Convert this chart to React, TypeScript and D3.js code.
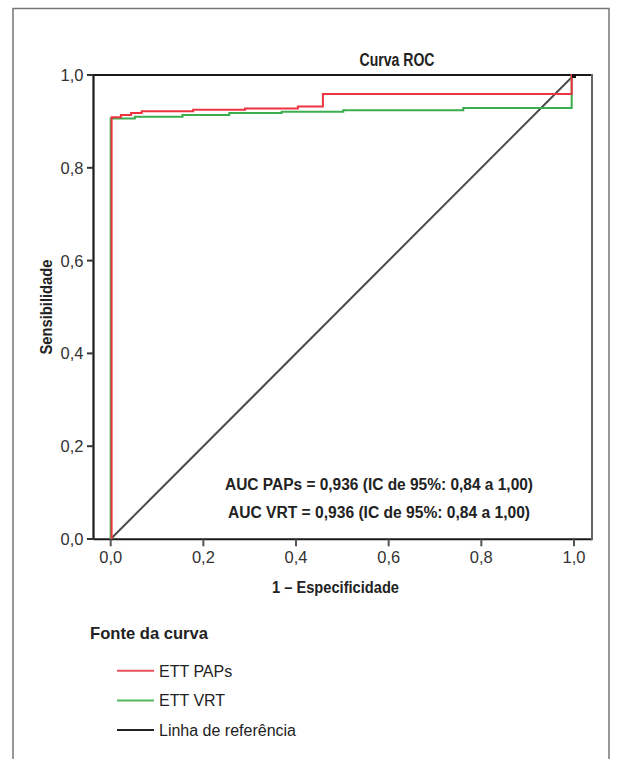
import React from "react";
import * as d3 from "d3";

const xTicks = [0, 0.2, 0.4, 0.6, 0.8, 1.0];
const yTicks = [0, 0.2, 0.4, 0.6, 0.8, 1.0];

const papsX = [0.002, 0.002, 0.022, 0.022, 0.044, 0.044, 0.067, 0.067, 0.178, 0.178, 0.29, 0.29, 0.404, 0.404, 0.458, 0.458, 0.995, 0.995, 1];
const papsY = [0, 0.909, 0.909, 0.914, 0.914, 0.918, 0.918, 0.922, 0.922, 0.925, 0.925, 0.928, 0.928, 0.932, 0.932, 0.959, 0.959, 1, 1];

const vrtX = [0, 0, 0.052, 0.052, 0.155, 0.155, 0.256, 0.256, 0.369, 0.369, 0.502, 0.502, 0.761, 0.761, 0.995, 0.995, 1];
const vrtY = [0, 0.906, 0.906, 0.91, 0.91, 0.914, 0.914, 0.918, 0.918, 0.921, 0.921, 0.924, 0.924, 0.929, 0.929, 1, 1];

const refX = [0, 1];
const refY = [0, 1];

const legendLabels = ["ETT PAPs", "ETT VRT", "Linha de referência"];
const legendColors = ["#e8505b", "#55b85a", "#222222"];
const aucLines = [
  "AUC PAPs = 0,936 (IC de 95%: 0,84 a 1,00)",
  "AUC VRT = 0,936 (IC de 95%: 0,84 a 1,00)",
];

const fmt = (v: number) => v.toFixed(1).replace(".", ",");
const boldFont = "'Liberation Sans Narrow', 'Liberation Sans', Arial, sans-serif";
const normFont = "'Liberation Sans', Arial, sans-serif";

export default function App() {
  const x = d3.scaleLinear().domain([0, 1]).range([110.7, 574]);
  const y = d3.scaleLinear().domain([0, 1]).range([539, 75]);
  const line = d3
    .line<[number, number]>()
    .x((d) => x(d[0]))
    .y((d) => y(d[1]));
  const zip = (a: number[], b: number[]) => a.map((v, i) => [v, b[i]] as [number, number]);

  const frameL = 93.5, frameR = 592, frameT = 75, frameB = 539.3;

  return (
    <svg
      width={622}
      height={759}
      style={{ position: "absolute", left: 0, top: 0, background: "#fff" }}
    >
      {/* outer border */}
      <path d="M13,759 L13,8.5 L609,8.5 L609,759" fill="none" stroke="#777" strokeWidth={1.5} />

      {/* title */}
      <text x={397} y={66} textAnchor="middle" fontFamily={boldFont} fontWeight="bold" fontSize={18} fill="#222" textLength={75} lengthAdjust="spacingAndGlyphs">
        Curva ROC
      </text>

      {/* plot frame */}
      <line x1={frameL} y1={frameT} x2={frameR} y2={frameT} stroke="#1a1a1a" strokeWidth={2} />
      <line x1={frameL} y1={frameT - 1} x2={frameL} y2={frameB} stroke="#1a1a1a" strokeWidth={2.2} />
      <line x1={frameL} y1={frameB} x2={frameR} y2={frameB} stroke="#1a1a1a" strokeWidth={2} />
      <line x1={frameR} y1={frameT - 1} x2={frameR} y2={frameB + 1} stroke="#666" strokeWidth={2} />

      {/* y ticks */}
      {yTicks.map((t) => (
        <g key={"y" + t}>
          <line x1={87} x2={frameL} y1={y(t)} y2={y(t)} stroke="#333" strokeWidth={2} />
          <text x={83.5} y={y(t) + 6} textAnchor="end" fontFamily={normFont} fontSize={16.5} fill="#333">
            {fmt(t)}
          </text>
        </g>
      ))}
      {/* x ticks */}
      {xTicks.map((t) => (
        <g key={"x" + t}>
          <line x1={x(t)} x2={x(t)} y1={frameB} y2={frameB + 7} stroke="#555" strokeWidth={2} />
          <text x={x(t)} y={563} textAnchor="middle" fontFamily={normFont} fontSize={16.5} fill="#333">
            {fmt(t)}
          </text>
        </g>
      ))}

      {/* axis labels */}
      <text x={335.5} y={593} textAnchor="middle" fontFamily={boldFont} fontWeight="bold" fontSize={16.5} fill="#222" textLength={127} lengthAdjust="spacingAndGlyphs">
        1 – Especificidade
      </text>
      <text
        transform="translate(52,307) rotate(-90)"
        textAnchor="middle"
        fontFamily={boldFont}
        fontWeight="bold"
        fontSize={16.5}
        fill="#222"
        textLength={95}
        lengthAdjust="spacingAndGlyphs"
      >
        Sensibilidade
      </text>

      {/* reference line */}
      <path d={line(zip(refX, refY)) || ""} fill="none" stroke="#4a4a4a" strokeWidth={2} />
      {/* curves */}
      <path d={line(zip(vrtX, vrtY)) || ""} fill="none" stroke="#3aad4f" strokeWidth={2} />
      <path d={line(zip(papsX, papsY)) || ""} fill="none" stroke="#ee3440" strokeWidth={2} />
      <rect x={x(1) - 2} y={y(1) - 1} width={4} height={4} fill="#111" />

      {/* AUC annotations */}
      {aucLines.map((s, i) => (
        <text key={s} x={379} y={489.5 + i * 28.5} textAnchor="middle" fontFamily={boldFont} fontWeight="bold" fontSize={16} fill="#222" textLength={i === 0 ? 308 : 302} lengthAdjust="spacingAndGlyphs">
          {s}
        </text>
      ))}

      {/* legend */}
      <text x={90} y={639} fontFamily={boldFont} fontWeight="bold" fontSize={16.5} fill="#222" textLength={118} lengthAdjust="spacingAndGlyphs">
        Fonte da curva
      </text>
      {legendLabels.map((l, i) => (
        <g key={l}>
          <line x1={117} x2={154} y1={670.7 + i * 29.7} y2={670.7 + i * 29.7} stroke={legendColors[i]} strokeWidth={2} />
          <text x={159} y={676.5 + i * 29.7} fontFamily={normFont} fontSize={16} fill="#222">
            {l}
          </text>
        </g>
      ))}
    </svg>
  );
}
